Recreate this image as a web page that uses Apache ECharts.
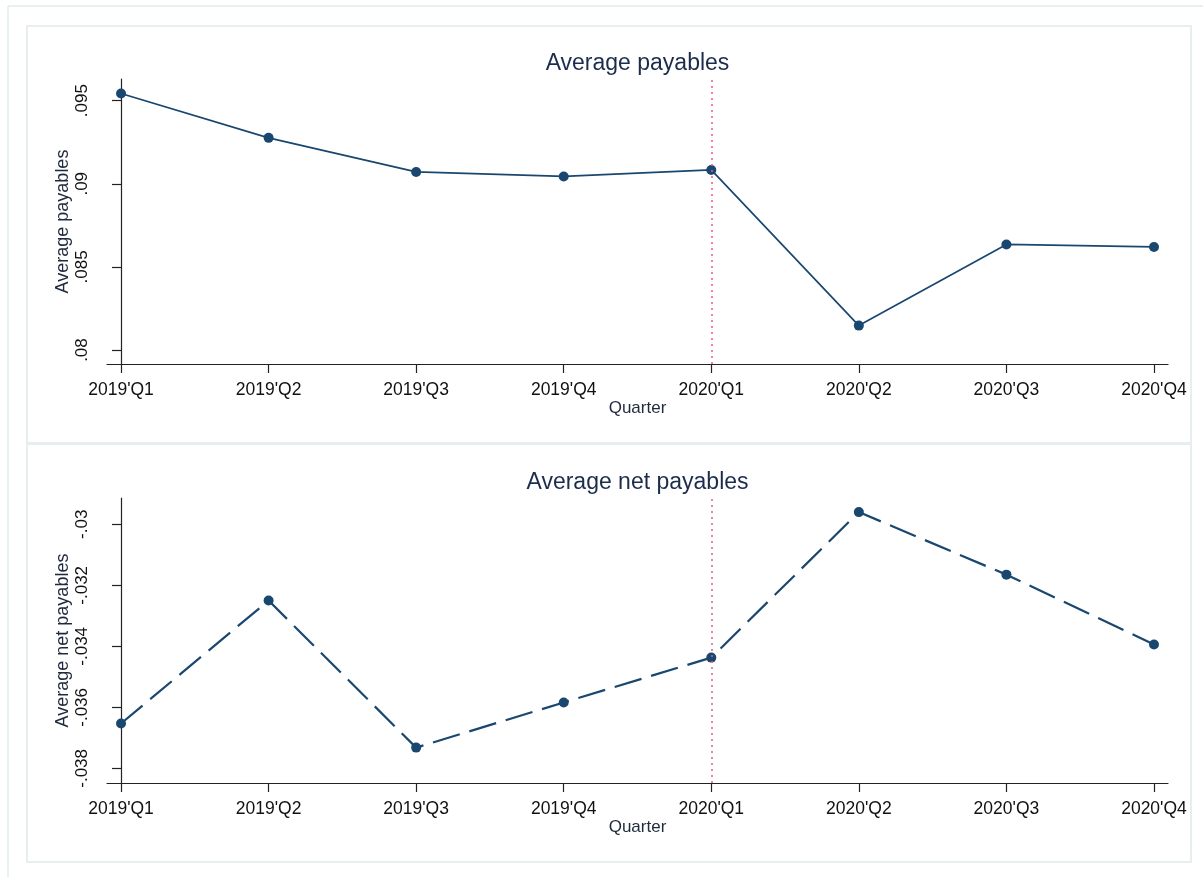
<!DOCTYPE html>
<html>
<head>
<meta charset="utf-8">
<script src="https://cdn.jsdelivr.net/npm/echarts@6/dist/echarts.min.js"></script>
<style>
  html, body { margin: 0; padding: 0; background: #ffffff; }
  #chart { width: 1203px; height: 877px; }
</style>
</head>
<body>
<div id="chart"></div>
<script>
// Quarterly averages, 2019'Q1 – 2020'Q4
const quarters = ["2019'Q1", "2019'Q2", "2019'Q3", "2019'Q4", "2020'Q1", "2020'Q2", "2020'Q3", "2020'Q4"];
const avgPayables = [0.09543, 0.09276, 0.09071, 0.09044, 0.09083, 0.08147, 0.08635, 0.08620];
const avgNetPayables = [-0.03653, -0.03250, -0.03732, -0.03584, -0.03437, -0.02960, -0.03165, -0.03394];
const payablesTicks = [0.08, 0.085, 0.09, 0.095];
const netPayablesTicks = [-0.038, -0.036, -0.034, -0.032, -0.03];
const eventQuarter = 4; // 2020'Q1

const FONT = "'Liberation Sans', Arial, Helvetica, sans-serif";
const NAVY = '#1a476f';
const TITLE_COLOR = '#1c2d4c';
const PANEL_STROKE = '#e6eef0';

// Stata-style tick labels: drop the leading zero (.095, -.038)
const fmtTick = v => parseFloat(Number(v).toFixed(4)).toString().replace(/^(-?)0\./, '$1.');
const quarterIdx = quarters.map((_, i) => i);

function xAxisFor(gridIndex) {
  return {
    type: 'value', gridIndex,
    min: -0.095, max: quarters.length - 1 + 0.095,
    name: 'Quarter', nameLocation: 'middle', nameGap: 36, nameMoveOverlap: false,
    nameTextStyle: { fontFamily: FONT, fontSize: 17, color: '#1f2a3c' },
    axisLine: { show: true, lineStyle: { color: '#222', width: 1.2 } },
    axisTick: { show: true, customValues: quarterIdx, length: 9, lineStyle: { color: '#222', width: 1.2 } },
    axisLabel: {
      customValues: quarterIdx, margin: 17,
      fontFamily: FONT, fontSize: 17.5, color: '#111',
      formatter: v => quarters[Math.round(v)]
    },
    splitLine: { show: false }
  };
}

function yAxisFor(gridIndex, name, ticks, min, max) {
  return {
    type: 'value', gridIndex, min, max,
    name, nameLocation: 'middle', nameGap: 35, nameMoveOverlap: false,
    nameTextStyle: { fontFamily: FONT, fontSize: 18, color: '#1f2a3c' },
    axisLine: { show: true, lineStyle: { color: '#222', width: 1.2 } },
    axisTick: { show: true, customValues: ticks, length: 9, lineStyle: { color: '#222', width: 1.2 } },
    axisLabel: {
      customValues: ticks, rotate: 90, margin: 16,
      fontFamily: FONT, fontSize: 17, color: '#111',
      formatter: fmtTick
    },
    splitLine: { show: false }
  };
}

function eventLine() {
  return {
    silent: true, symbol: 'none', label: { show: false },
    lineStyle: { type: [2, 4], color: '#e0607e', width: 1.5 },
    data: [{ xAxis: eventQuarter }]
  };
}

const chart = echarts.init(document.getElementById('chart'), null, { renderer: 'canvas' });

chart.setOption({
  backgroundColor: '#ffffff',
  animation: false,
  graphic: [
    { type: 'line', shape: { x1: 8, y1: 6, x2: 1203, y2: 6 }, style: { stroke: '#e8f0f2', lineWidth: 2 } },
    { type: 'line', shape: { x1: 8, y1: 6, x2: 8, y2: 877 }, style: { stroke: '#e8f0f2', lineWidth: 2 } },
    { type: 'rect', shape: { x: 27, y: 26, width: 1164, height: 417 }, style: { fill: 'none', stroke: PANEL_STROKE, lineWidth: 2 }, z: -1 },
    { type: 'rect', shape: { x: 27, y: 444, width: 1164, height: 418 }, style: { fill: 'none', stroke: PANEL_STROKE, lineWidth: 2 }, z: -1 },
    { type: 'text', x: 637.5, y: 64, style: { text: 'Average payables', align: 'center', verticalAlign: 'middle', font: '23px ' + FONT, fill: TITLE_COLOR } },
    { type: 'text', x: 637.5, y: 483, style: { text: 'Average net payables', align: 'center', verticalAlign: 'middle', font: '23px ' + FONT, fill: TITLE_COLOR } }
  ],
  grid: [
    { left: 107, right: 35, top: 79, height: 285 },
    { left: 107, right: 35, top: 498, height: 285 }
  ],
  xAxis: [xAxisFor(0), xAxisFor(1)],
  yAxis: [
    yAxisFor(0, 'Average payables', payablesTicks, 0.07916, 0.0963),
    yAxisFor(1, 'Average net payables', netPayablesTicks, -0.03848, -0.029138)
  ],
  series: [
    {
      name: 'Average payables', type: 'line', xAxisIndex: 0, yAxisIndex: 0,
      data: quarters.map((_, i) => [i, avgPayables[i]]),
      symbol: 'circle', symbolSize: 10,
      itemStyle: { color: NAVY },
      lineStyle: { color: NAVY, width: 1.7 },
      markLine: eventLine()
    },
    {
      name: 'Average net payables', type: 'line', xAxisIndex: 1, yAxisIndex: 1,
      data: quarters.map((_, i) => [i, avgNetPayables[i]]),
      symbol: 'circle', symbolSize: 10,
      itemStyle: { color: NAVY },
      lineStyle: { color: NAVY, width: 2.2, type: [28, 10] },
      markLine: eventLine()
    }
  ]
});
</script>
</body>
</html>
